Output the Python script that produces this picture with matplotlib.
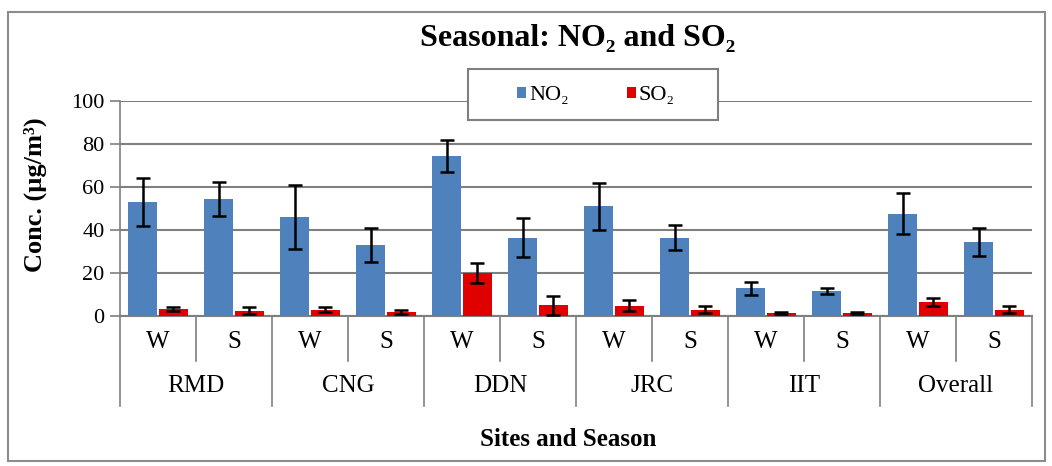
import numpy as np
import matplotlib.pyplot as plt
from matplotlib.patches import Rectangle

plt.rcParams['font.family'] = ['Liberation Serif', 'DejaVu Serif']

sites = ['RMD', 'CNG', 'DDN', 'JRC', 'IIT', 'Overall']
seasons = ['W', 'S']

no2 = [53, 54.5, 46, 33, 74.5, 36.5, 51, 36.5, 13, 11.5, 47.5, 34.5]
no2_err = [11, 8, 15, 8, 7.5, 9, 11, 6, 3, 1.3, 9.5, 6.5]
so2 = [3.2, 2.5, 3, 2, 20, 5, 4.8, 3, 1.5, 1.2, 6.5, 3]
so2_err = [1, 1.5, 1, 1, 4.5, 4.5, 2.7, 1.5, 0.5, 0.5, 2, 1.5]

W, H = 1052, 466
fig = plt.figure(figsize=(W / 100, H / 100), dpi=100)
ax = fig.add_axes([120 / W, 1 - 316 / H, 912 / W, 215 / H])

# outer chart border
fig.patches.append(Rectangle((8 / W, 1 - 461 / H), 1037 / W, 449 / H,
                             transform=fig.transFigure, fill=False,
                             edgecolor='#8c8c8c', linewidth=1.5))

x = np.arange(len(no2)) + 0.5
bw = 0.38
ekw = dict(elinewidth=1.8, capthick=1.8, ecolor='black')
ax.bar(x - 0.2, no2, bw, yerr=no2_err, capsize=5, color='#4f81bd',
       label='NO\u2082', error_kw=ekw, zorder=3)
ax.bar(x + 0.2, so2, bw, yerr=so2_err, capsize=5, color='#e00000',
       label='SO\u2082', error_kw=ekw, zorder=3)

ax.set_xlim(0, len(no2))
ax.set_ylim(0, 100)
ax.set_yticks(range(0, 101, 20))
ax.yaxis.grid(True, color='#7f7f7f', linewidth=1.5)
ax.set_axisbelow(True)
for s in ['top', 'right']:
    ax.spines[s].set_visible(False)
ax.spines['left'].set_color('#7f7f7f')
ax.spines['bottom'].set_color('#7f7f7f')
ax.spines['left'].set_linewidth(1.2)
ax.spines['bottom'].set_linewidth(1.5)
ax.tick_params(axis='y', length=7, width=1.2, color='#7f7f7f',
               labelsize=16, pad=4)
ax.set_xticks([])

# two-level category axis
tr = ax.get_xaxis_transform()
for i in range(len(no2) + 1):
    low = -0.42 if i % 2 == 0 else -0.21
    ax.plot([i, i], [0, low], transform=tr, color='#7f7f7f',
            linewidth=1.2, clip_on=False)
for i, xi in enumerate(x):
    ax.text(xi, -0.12, seasons[i % 2], transform=tr, ha='center',
            va='center', fontsize=18)
for j, s in enumerate(sites):
    ax.text(2 * j + 1, -0.325, s, transform=tr, ha='center', va='center',
            fontsize=18)

fig.text(568 / W, 1 - 439 / H, 'Sites and Season', ha='center',
         va='center', fontsize=18, fontweight='bold')
fig.text(35 / W, 1 - 195 / H, 'Conc. (\u00b5g/m\u00b3)', rotation=90,
         ha='center', va='center', fontsize=19, fontweight='bold')
fig.text(578 / W, 1 - 38 / H, 'Seasonal: NO\u2082 and SO\u2082',
         ha='center', va='center', fontsize=23, fontweight='bold')

# legend box drawn by hand, the entries placed inside it
ax.add_patch(Rectangle((468 / W, 1 - 120 / H), 250 / W, 51 / H,
                       transform=fig.transFigure, facecolor='white',
                       edgecolor='#7f7f7f', linewidth=1.5, zorder=4,
                       clip_on=False))
leg = ax.legend(loc='center', bbox_to_anchor=(596 / W, 1 - 96 / H),
                bbox_transform=fig.transFigure, ncol=2, fontsize=16,
                frameon=False, handlelength=0.4, handleheight=0.4,
                handletextpad=0.15, columnspacing=2.6, borderpad=0)
leg.set_zorder(6)

fig.savefig('out.png', dpi=100)
